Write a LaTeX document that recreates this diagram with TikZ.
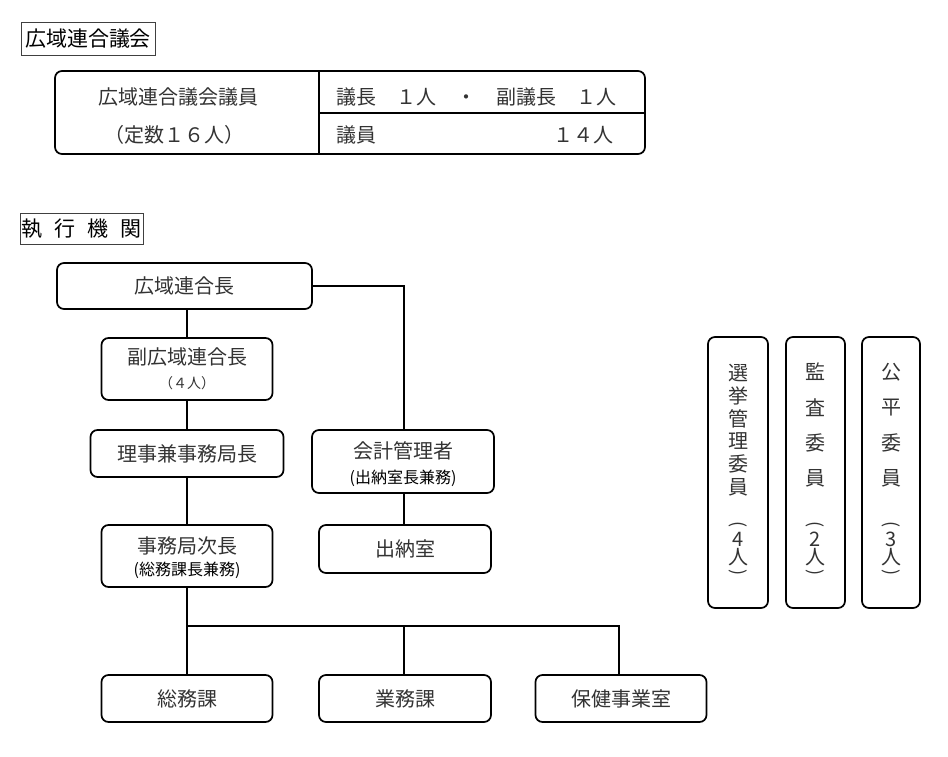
\documentclass[tikz,border=0pt]{standalone}
\usepackage{fontspec}
\setmainfont{Noto Sans CJK JP}
\definecolor{txt}{HTML}{333333}
\begin{document}
\begin{tikzpicture}[x=1pt,y=-1pt,
  box/.style={draw, line width=1.7pt, rounded corners=7pt, inner sep=0pt},
  ttl/.style={draw=black!75, line width=0.8pt, inner sep=0pt, text=black, font=\fontsize{21}{24}\selectfont},
  conn/.style={line width=1.5pt},
  lbl/.style={text=txt, inner sep=0pt, font=\fontsize{20}{24}\selectfont},
  sml/.style={text=txt, inner sep=0pt, font=\fontsize{14}{16}\selectfont},
  sub/.style={text=black, inner sep=0pt, font=\fontsize{16}{18}\selectfont},
  par/.style={text=txt, inner sep=0pt, font=\fontsize{18}{20}\selectfont}
]
\useasboundingbox (0,0) rectangle (948,756);

% ---- council ----
\node[ttl, minimum width=134pt, minimum height=33pt] (t1) at (88,38.5) {広域連合議会};
\node[box, minimum width=590pt, minimum height=83pt] (tbl) at (350,112.5) {};
\draw[conn] (319,71) -- (319,154);
\draw[conn] (319,113) -- (645,113);
\node[lbl] (c1) at (178,97) {広域連合議会議員};
\node[lbl] (c2) at (174,135) {（定数１６人）};
\node[lbl, anchor=west] (c3) at (336,97) {議長　１人　・　副議長　１人};
\node[lbl, anchor=west] (c4) at (336,135) {議員};
\node[lbl, anchor=east] (c5) at (614,135) {１４人};

% ---- executive ----
\node[ttl, minimum width=123pt, minimum height=31pt] (t2) at (81.5,228.5) {執\hspace{12pt}行\hspace{12pt}機\hspace{12pt}関};

\node[box, minimum width=255pt, minimum height=46pt] (chou) at (184.5,286) {};
\node[lbl] (chouT) at (chou.center) {広域連合長};

\node[box, minimum width=171pt, minimum height=62pt] (fuku) at (187,369) {};
\node[lbl] (fukuT) at (187,357) {副広域連合長};
\node[sml] (fukuS) at (187,383) {（４人）};

\node[box, minimum width=193pt, minimum height=47pt] (riji) at (187,453.5) {};
\node[lbl] (rijiT) at (riji.center) {理事兼事務局長};

\node[box, minimum width=182pt, minimum height=63pt] (kaikei) at (403,461.5) {};
\node[lbl] (kaikeiT) at (403,451) {会計管理者};
\node[sub] (kaikeiS) at (403,478) {(出納室長兼務)};

\node[box, minimum width=171pt, minimum height=62pt] (jimu) at (187,556) {};
\node[lbl] (jimuT) at (187,546) {事務局次長};
\node[sub] (jimuS) at (187,570) {(総務課長兼務)};

\node[box, minimum width=172pt, minimum height=48pt] (suitou) at (405,549) {};
\node[lbl] (suitouT) at (suitou.center) {出納室};

\node[box, minimum width=171pt, minimum height=47pt] (somu) at (187,698.5) {};
\node[lbl] (somuT) at (somu.center) {総務課};
\node[box, minimum width=172pt, minimum height=47pt] (gyomu) at (405,698.5) {};
\node[lbl] (gyomuT) at (gyomu.center) {業務課};
\node[box, minimum width=171pt, minimum height=47pt] (hoken) at (621,698.5) {};
\node[lbl] (hokenT) at (hoken.center) {保健事業室};

% connectors
\coordinate (hb) at (187,626);
\coordinate (gx) at (404,626);
\coordinate (hx) at (619,626);
\draw[conn] (chou.south -| fuku.north) -- (fuku.north);
\draw[conn] (fuku.south) -- (riji.north);
\draw[conn] (riji.south) -- (jimu.north);
\draw[conn] (jimu.south) -- (somu.north);
\draw[conn] (chou.east) -- (chou.east -| gx) -- (gx |- kaikei.north);
\draw[conn] (gx |- kaikei.south) -- (gx |- suitou.north);
\draw[conn] (hb) -- (hx) -- (hx |- hoken.north);
\draw[conn] (gx) -- (gx |- gyomu.north);

% ---- committees (vertical) ----
\node[box, minimum width=60pt, minimum height=271pt] (sen) at (738,472.5) {};
\node[box, minimum width=59pt, minimum height=271pt] (kan) at (815.5,472.5) {};
\node[box, minimum width=58pt, minimum height=271pt] (kou) at (891,472.5) {};

\foreach \ch [count=\i] in {選,挙,管,理,委,員}
  \node[lbl] (sen\i) at (738,{373+22.8*(\i-1)}) {\ch};
\foreach \ch [count=\i] in {監,査,委,員}
  \node[lbl] (kan\i) at (815.5,{372+35.3*(\i-1)}) {\ch};
\foreach \ch [count=\i] in {公,平,委,員}
  \node[lbl] (kou\i) at (891,{372+35.3*(\i-1)}) {\ch};

\foreach \x/\n/\d in {738/sen/4, 815.5/kan/2, 891/kou/3} {
  \node[par, rotate=-90] (\n pa) at (\x,525) {(};
  \node[lbl] (\n num) at (\x,539) {\d};
  \node[lbl] (\n nin) at (\x,557) {人};
  \node[par, rotate=-90] (\n pb) at (\x,573) {)};
}
\end{tikzpicture}
\end{document}
